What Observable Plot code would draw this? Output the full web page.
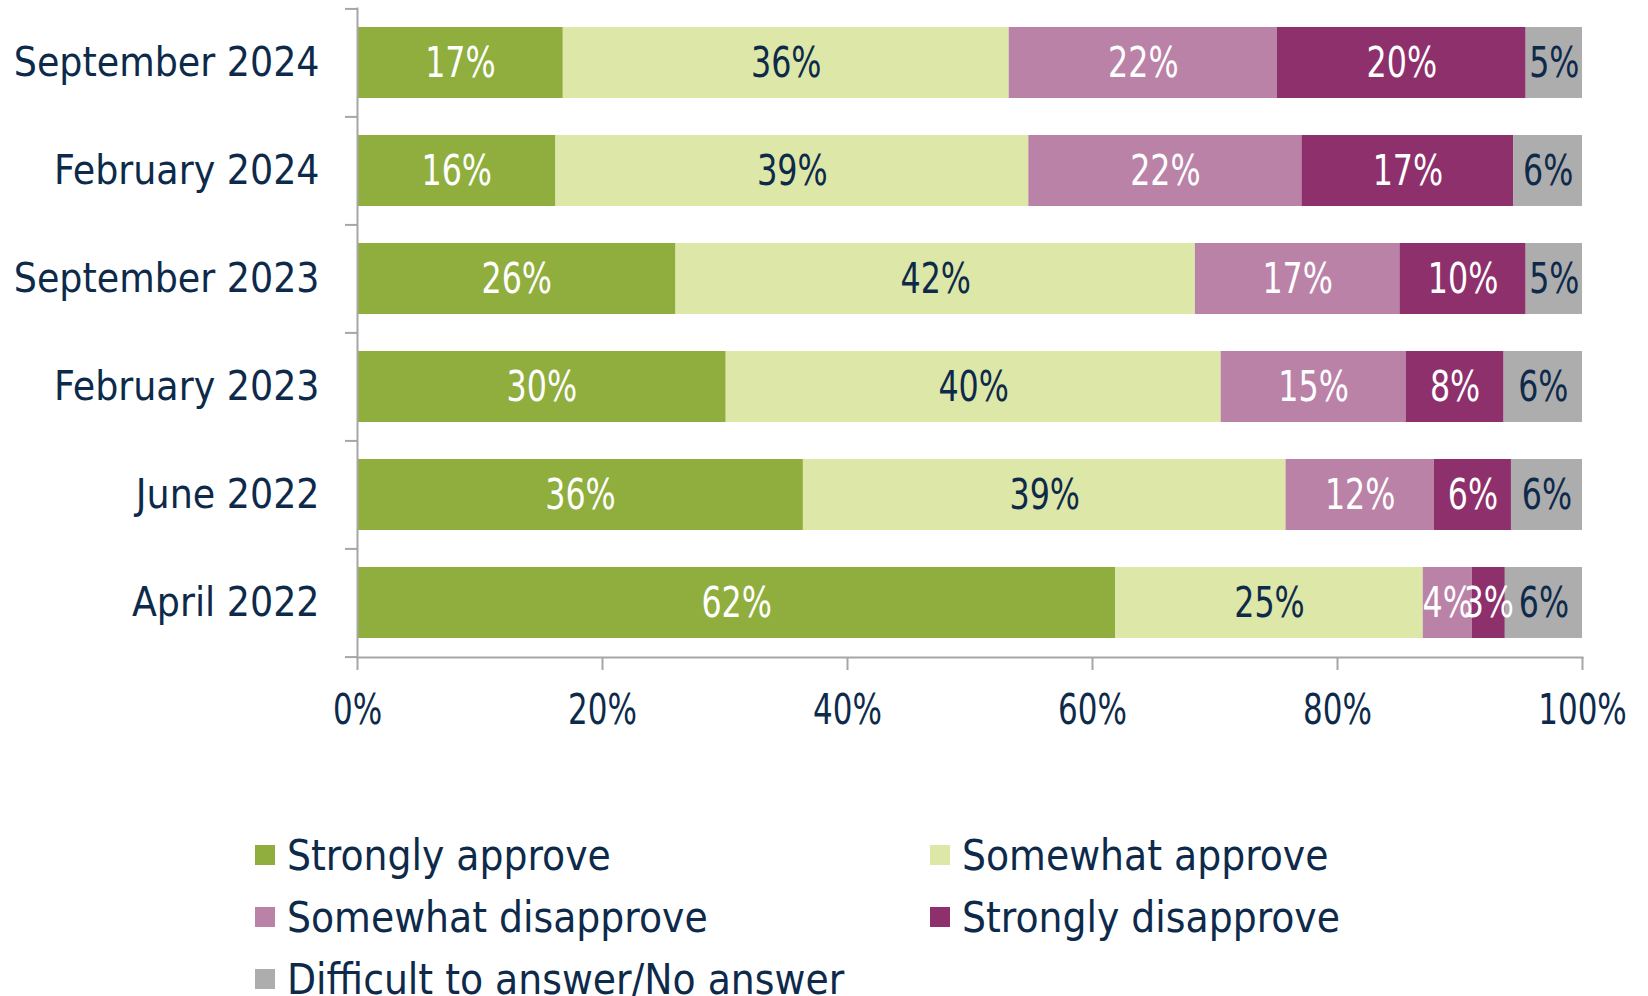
<!DOCTYPE html>
<html>
<head>
<meta charset="utf-8">
<script src="https://cdn.jsdelivr.net/npm/d3@7"></script>
<script src="https://cdn.jsdelivr.net/npm/@observablehq/plot@0.6"></script>
<style>
  html, body { margin: 0; padding: 0; background: #fff; }
  #chart svg { display: block; }
  .legend {
    display: grid;
    grid-template-columns: 675px auto;
    grid-auto-rows: 62px;
    margin-left: 255px;
    margin-top: 79px;
    font-family: "DejaVu Sans Condensed", "DejaVu Sans", sans-serif;
    font-stretch: condensed;
    font-size: 42px;
    color: #0E2A4A;
  }
  .legend .item { display: flex; align-items: center; white-space: nowrap; }
  .legend .sw { width: 20px; height: 20px; margin-right: 12px; flex: none; }
</style>
</head>
<body>
<div id="chart"></div>
<script>
const categories = ["September 2024", "February 2024", "September 2023", "February 2023", "June 2022", "April 2022"];
const responses = ["Strongly approve", "Somewhat approve", "Somewhat disapprove", "Strongly disapprove", "Difficult to answer/No answer"];
const stronglyApprove    = [16.8, 16.2, 26.0, 30.1, 36.4, 61.9];
const somewhatApprove    = [36.4, 38.6, 42.4, 40.4, 39.4, 25.1];
const somewhatDisapprove = [21.9, 22.3, 16.7, 15.1, 12.1, 4.0];
const stronglyDisapprove = [20.3, 17.3, 10.3, 8.0, 6.3, 2.7];
const noAnswer           = [4.6, 5.6, 4.6, 6.4, 5.8, 6.3];
const xTicks = [0, 20, 40, 60, 80, 100];

const colors = ["#8FAE3E", "#DCE7A8", "#BB82A8", "#8E306C", "#ADADAE"];
const navy = "#0E2A4A";
const axisGray = "#A6A6A6";
const whiteLabelSet = new Set([responses[0], responses[2], responses[3]]);

const series = [stronglyApprove, somewhatApprove, somewhatDisapprove, stronglyDisapprove, noAnswer];
const data = [];
categories.forEach((c, i) => {
  responses.forEach((r, j) => data.push({date: c, response: r, value: series[j][i]}));
});

const labelFont = "DejaVu Sans Condensed, DejaVu Sans, sans-serif";
const catFont = "DejaVu Sans Condensed, DejaVu Sans, serif";

const W = 1648, H = 745, mt = 8, mb = 88, ml = 357, mr = 66;
const step = (H - mt - mb) / categories.length;
const fmt = d => Math.round(d.value) + "%";

const plot = Plot.plot({
  width: W, height: H,
  marginTop: mt, marginBottom: mb, marginLeft: ml, marginRight: mr,
  x: {domain: [0, 100]},
  y: {domain: categories, paddingInner: 0.34, paddingOuter: 0.17},
  color: {domain: responses, range: colors},
  marks: [
    Plot.barX(data, Plot.stackX({x: "value", y: "date", fill: "response", order: responses})),
    Plot.text(data, Plot.stackX({x: "value", y: "date", z: "response", order: responses,
      text: d => whiteLabelSet.has(d.response) ? fmt(d) : "",
      fill: "white", fontSize: 43, fontFamily: labelFont})),
    Plot.text(data, Plot.stackX({x: "value", y: "date", z: "response", order: responses,
      text: d => whiteLabelSet.has(d.response) ? "" : fmt(d),
      fill: navy, fontSize: 43, fontFamily: labelFont})),
    Plot.frame({anchor: "left", stroke: axisGray, strokeWidth: 2}),
    Plot.frame({anchor: "bottom", stroke: axisGray, strokeWidth: 2}),
    Plot.axisY({tickSize: 12, tickFormat: () => "", stroke: axisGray, strokeWidth: 2, dy: -step / 2, label: null}),
    Plot.axisY([categories[categories.length - 1]], {tickSize: 12, tickFormat: () => "", stroke: axisGray, strokeWidth: 2, dy: step / 2, label: null}),
    Plot.axisY({tickSize: 0, tickPadding: 38, fill: navy, fontSize: 40.5, fontFamily: catFont, label: null}),
    Plot.axisX({ticks: xTicks, tickSize: 13, tickFormat: () => "", stroke: axisGray, strokeWidth: 2, label: null}),
    Plot.axisX({ticks: xTicks, tickSize: 0, tickPadding: 37, tickFormat: d => d + "%", fill: navy, fontSize: 42, fontFamily: labelFont, label: null})
  ]
});
document.getElementById("chart").appendChild(plot);

// Narrow the percentage labels (the original uses a condensed numeric face)
plot.querySelectorAll("g").forEach(g => {
  if (g.getAttribute("font-family") === labelFont) {
    g.querySelectorAll("text").forEach(t => {
      const len = t.getComputedTextLength();
      if (len > 0) {
        t.setAttribute("textLength", (len * 0.82).toFixed(1));
        t.setAttribute("lengthAdjust", "spacingAndGlyphs");
      }
    });
  }
});

const legend = document.createElement("div");
legend.className = "legend";
responses.forEach((r, i) => {
  const item = document.createElement("div");
  item.className = "item";
  const sw = document.createElement("span");
  sw.className = "sw";
  sw.style.background = colors[i];
  const t = document.createElement("span");
  t.textContent = r;
  item.appendChild(sw);
  item.appendChild(t);
  legend.appendChild(item);
});
document.body.appendChild(legend);
</script>
</body>
</html>
